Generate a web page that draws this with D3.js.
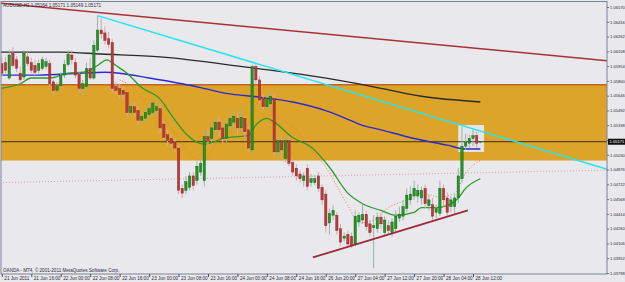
<!DOCTYPE html>
<html>
<head>
<meta charset="utf-8">
<script src="https://cdn.jsdelivr.net/npm/d3@7"></script>
<style>
  html, body { margin: 0; padding: 0; background: #e9e8ec; }
  svg { display: block; }
  text { font-family: "Liberation Sans", Arial, sans-serif; }
</style>
</head>
<body>
<div class="vis-candle"></div>
<script>
// header / footer texts
const symbolTitle = "AUDUSD,H1  1.05164 1.05171 1.05149 1.05171";
const copyright = "OANDA - MT4, \u00a9 2001-2011 MetaQuotes Software Corp.";

// H1 bars, 21 Jun 08:00 .. 28 Jun 14:00
const open = [
  1.0598,1.0599,1.0583,1.0609,1.0602,1.0588,1.0584,1.0605,1.0599,1.0596,
  1.0591,1.0593,1.0595,1.0598,1.0579,1.0570,1.0575,1.0586,1.0597,1.0607,
  1.0599,1.0587,1.0572,1.0574,1.0593,1.0583,1.0612,1.0633,1.0630,1.0624,
  1.0620,1.0574,1.0572,1.0570,1.0568,1.0547,1.0553,1.0549,1.0539,1.0541,
  1.0545,1.0547,1.0549,1.0551,1.0535,1.0524,1.0520,1.0516,1.0510,1.0468,
  1.0466,1.0469,1.0481,1.0476,1.0485,1.0476,1.0522,1.0520,1.0529,1.0537,
  1.0531,1.0520,1.0533,1.0537,1.0541,1.0531,1.0541,1.0529,1.0508,1.0595,
  1.0581,1.0562,1.0553,1.0556,1.0562,1.0506,1.0518,1.0499,1.0518,1.0495,
  1.0489,1.0483,1.0476,1.0489,1.0474,1.0474,1.0481,1.0469,1.0462,1.0432,
  1.0440,1.0440,1.0426,1.0416,1.0420,1.0418,1.0410,1.0433,1.0435,1.0441,
  1.0431,1.0427,1.0426,1.0438,1.0422,1.0429,1.0422,1.0426,1.0437,1.0439,
  1.0447,1.0456,1.0460,1.0460,1.0458,1.0468,1.0450,1.0451,1.0443,1.0442,
  1.0468,1.0458,1.0449,1.0449,1.0458,1.0478,1.0512,1.0515,1.0520,1.0523,
  1.05164
];
const high = [
  1.0604,1.0605,1.0612,1.0615,1.0606,1.0595,1.0612,1.0610,1.0604,1.0602,
  1.0602,1.0605,1.0604,1.0602,1.0581,1.0579,1.0589,1.0602,1.0612,1.0612,
  1.0604,1.0589,1.0581,1.0599,1.0604,1.0622,1.0648,1.0645,1.0637,1.0631,
  1.0624,1.0579,1.0577,1.0574,1.0570,1.0557,1.0558,1.0553,1.0547,1.0551,
  1.0556,1.0560,1.0558,1.0556,1.0539,1.0529,1.0524,1.0520,1.0513,1.0472,
  1.0481,1.0485,1.0485,1.0497,1.0499,1.0529,1.0531,1.0537,1.0542,1.0544,
  1.0534,1.0539,1.0545,1.0549,1.0547,1.0551,1.0544,1.0533,1.0597,1.0599,
  1.0585,1.0566,1.0568,1.0568,1.0566,1.0522,1.0523,1.0522,1.0522,1.0499,
  1.0493,1.0487,1.0485,1.0493,1.0483,1.0482,1.0485,1.0472,1.0466,1.0447,
  1.0450,1.0443,1.0431,1.0422,1.0424,1.0422,1.0445,1.0443,1.0452,1.0445,
  1.0435,1.0440,1.0443,1.0443,1.0439,1.0435,1.0437,1.0445,1.0449,1.0456,
  1.0468,1.0470,1.0476,1.0472,1.0470,1.0472,1.0461,1.0458,1.0451,1.0476,
  1.0472,1.0464,1.0460,1.0462,1.0489,1.0532,1.0525,1.0524,1.0529,1.0527,
  1.05171
];
const low = [
  1.0585,1.0587,1.0581,1.0594,1.0589,1.0577,1.0581,1.0595,1.0588,1.0586,
  1.0588,1.0591,1.0592,1.0574,1.0565,1.0568,1.0572,1.0583,1.0595,1.0597,
  1.0583,1.0568,1.0565,1.0570,1.0581,1.0581,1.0610,1.0624,1.0618,1.0614,
  1.0568,1.0566,1.0562,1.0560,1.0543,1.0544,1.0543,1.0534,1.0535,1.0538,
  1.0541,1.0544,1.0545,1.0525,1.0518,1.0513,1.0510,1.0506,1.0462,1.0458,
  1.0462,1.0466,1.0466,1.0472,1.0481,1.0470,1.0512,1.0516,1.0524,1.0522,
  1.0515,1.0516,1.0529,1.0531,1.0524,1.0527,1.0520,1.0506,1.0504,1.0577,
  1.0556,1.0549,1.0549,1.0551,1.0501,1.0501,1.0501,1.0495,1.0491,1.0481,
  1.0476,1.0474,1.0470,1.0466,1.0470,1.0471,1.0464,1.0451,1.0422,1.0420,
  1.0435,1.0420,1.0408,1.0412,1.0407,1.0406,1.0408,1.0428,1.0431,1.0424,
  1.0418,1.0385,1.0422,1.0426,1.0418,1.0420,1.0418,1.0422,1.0433,1.0435,
  1.0443,1.0451,1.0456,1.0453,1.0451,1.0447,1.0445,1.0435,1.0437,1.0439,
  1.0449,1.0439,1.0443,1.0441,1.0453,1.0474,1.0508,1.0510,1.0512,1.0510,
  1.05149
];
const close = [
  1.0588,1.0591,1.0607,1.0596,1.0593,1.0581,1.0609,1.0598,1.0591,1.0589,
  1.0598,1.0602,1.0600,1.0577,1.0570,1.0575,1.0586,1.0597,1.0608,1.0602,
  1.0586,1.0572,1.0577,1.0593,1.0583,1.0617,1.0633,1.0629,1.0622,1.0618,
  1.0572,1.0570,1.0566,1.0566,1.0547,1.0553,1.0547,1.0539,1.0543,1.0547,
  1.0551,1.0557,1.0553,1.0531,1.0521,1.0518,1.0515,1.0510,1.0466,1.0463,
  1.0475,1.0481,1.0471,1.0491,1.0494,1.0522,1.0518,1.0531,1.0537,1.0529,
  1.0520,1.0535,1.0541,1.0543,1.0531,1.0542,1.0527,1.0510,1.0595,1.0581,
  1.0560,1.0553,1.0562,1.0564,1.0506,1.0518,1.0508,1.0518,1.0494,1.0485,
  1.0481,1.0478,1.0481,1.0470,1.0478,1.0478,1.0468,1.0456,1.0429,1.0442,
  1.0445,1.0424,1.0412,1.0418,1.0410,1.0409,1.0439,1.0440,1.0441,1.0428,
  1.0422,1.0429,1.0438,1.0431,1.0435,1.0424,1.0433,1.0439,1.0441,1.0449,
  1.0461,1.0462,1.0468,1.0466,1.0466,1.0452,1.0456,1.0439,1.0447,1.0468,
  1.0456,1.0443,1.0456,1.0458,1.0481,1.0512,1.0516,1.0520,1.0523,1.0515,
  1.05171
];

// axis ticks
const timeTicks = [0, 8, 16, 24, 32, 40, 48, 56, 64, 72, 80, 88, 96, 104, 112, 120, 128];
const timeLabels = ["21 Jun 2011", "21 Jun 16:00", "22 Jun 00:00", "22 Jun 08:00", "22 Jun 16:00",
  "23 Jun 00:00", "23 Jun 08:00", "23 Jun 16:00", "24 Jun 00:00", "24 Jun 08:00", "24 Jun 16:00",
  "26 Jun 20:00", "27 Jun 04:00", "27 Jun 12:00", "27 Jun 20:00", "28 Jun 04:00", "28 Jun 12:00"];
const priceTicks = [1.06570, 1.06416, 1.06262, 1.06108, 1.05954, 1.05800, 1.05646, 1.05492, 1.05338,
  1.05184, 1.05030, 1.04876, 1.04722, 1.04568, 1.04414, 1.04260, 1.04106, 1.03952, 1.03798];

// moving averages: [bar, price]
const maSlow = [[-0.5,1.0610],[16,1.0610],[27,1.0608],[43,1.0605],[67,1.0594],[81,1.0587],[97,1.0577],[114,1.0564],[130,1.0558]];
const maMid = [[-0.5,1.0586],[10,1.0586],[21,1.0588],[28,1.0589],[32,1.0588],[40,1.0583],[49,1.0577],[54,1.0573],
  [61,1.0567],[70,1.0563],[79,1.0558],[88,1.0549],[94,1.0540],[97,1.0535],[103,1.0529],[112,1.0520],[121,1.0513],[126,1.0509],[130,1.0509]];
const maFast = [[-0.5,1.0572],[5,1.0577],[8,1.0583],[13,1.0583],[18,1.0588],[22,1.0589],[26,1.0596],[28.5,1.0602],[31,1.0596],
  [34,1.0588],[38,1.0573],[43,1.0561],[46.5,1.0542],[50,1.0525],[55,1.0514],[61,1.0521],[67,1.0523],[69,1.0534],[72,1.0541],
  [74,1.0537],[79,1.0521],[84,1.0511],[89,1.0490],[94,1.0463],[98,1.0452],[103,1.0445],[107,1.0440],[112,1.0443],[114,1.0448],
  [118,1.0448],[121,1.0450],[124,1.0458],[126,1.0468],[130,1.0478]];
const maDotted = [[32,1.0581],[36,1.0572],[40,1.0553],[43,1.0549],[45,1.0536],[48,1.0521],[52,1.0500],[55,1.0497],[57,1.0508],
  [61,1.0525],[66,1.0529],[68,1.0546],[70,1.0558],[75,1.0542],[79,1.0532],[84,1.0508],[88,1.0490],[94,1.0450],[97,1.0432],
  [101,1.0435],[105,1.0448],[110,1.0456],[114,1.0463],[119,1.0459],[123,1.0463],[126,1.0484],[130,1.0497]];

// drawn objects
const resistanceLine = [[-0.5, 1.0661], [164.4, 1.0601]];
const cyanLine = [[26, 1.0648], [164.4, 1.0488]];
const supportLine = [[84.5, 1.0396], [126.6, 1.0445]];
const pinkLine = [[-0.5, 1.0474], [164.4, 1.0487]];
const bandPrices = [1.0576, 1.0497];
const boxBars = [124, 131];
const boxPrices = [1.0534, 1.0506];

const draw = () => {
    const W = 625, H = 282;
    const plot = { left: 1, top: 1.5, right: 607, bottom: 274 };

    const svg = d3.select('.vis-candle')
        .append('svg')
        .attr('width', W)
        .attr('height', H);

    svg.append('rect').attr('width', W).attr('height', H).attr('fill', '#e9e8ec');

    // scales: bar index -> x, price -> y
    const x = d3.scaleLinear().domain([-0.5, 164.4]).range([0, 607]);
    const y = d3.scaleLinear().domain([1.03798, 1.06570]).range([273, 7]);

    svg.append('defs').append('clipPath')
        .attr('id', 'plotClip')
        .append('rect')
        .attr('x', plot.left).attr('y', plot.top)
        .attr('width', plot.right - plot.left).attr('height', plot.bottom - plot.top);

    const g = svg.append('g').attr('clip-path', 'url(#plotClip)');

    // orange zone
    g.append('rect')
        .attr('x', plot.left)
        .attr('y', y(bandPrices[0]))
        .attr('width', plot.right - plot.left)
        .attr('height', y(bandPrices[1]) - y(bandPrices[0]))
        .attr('fill', '#dca52a');
    g.append('line')
        .attr('x1', plot.left).attr('x2', plot.right)
        .attr('y1', y(bandPrices[0])).attr('y2', y(bandPrices[0]))
        .attr('stroke', '#c0642a').attr('stroke-width', 1.5);

    // small light box around last bars
    g.append('rect')
        .attr('x', x(boxBars[0]))
        .attr('y', y(boxPrices[0]))
        .attr('width', x(boxBars[1]) - x(boxBars[0]))
        .attr('height', y(boxPrices[1]) - y(boxPrices[0]))
        .attr('fill', '#e6e6ea');

    const lineGen = d3.line()
        .x(d => x(d[0]))
        .y(d => y(d[1]));
    const smoothGen = d3.line()
        .x(d => x(d[0]))
        .y(d => y(d[1]))
        .curve(d3.curveMonotoneX);

    // pink dotted level + bid line
    g.append('path').attr('d', lineGen(pinkLine))
        .attr('stroke', '#e49aae').attr('stroke-width', 1)
        .attr('stroke-dasharray', '1,2').attr('fill', 'none');
    const lastClose = close[close.length - 1];
    g.append('line')
        .attr('x1', plot.left).attr('x2', plot.right)
        .attr('y1', y(lastClose) + 0.5).attr('y2', y(lastClose) + 0.5)
        .attr('stroke', '#3a2a20').attr('stroke-width', 1);

    // moving averages
    g.append('path').attr('d', smoothGen(maSlow))
        .attr('stroke', '#2a2a2a').attr('stroke-width', 1.3).attr('fill', 'none');
    g.append('path').attr('d', smoothGen(maMid))
        .attr('stroke', '#2a2ad0').attr('stroke-width', 1.4).attr('fill', 'none');
    g.append('path').attr('d', smoothGen(maFast))
        .attr('stroke', '#2a9a2a').attr('stroke-width', 1.3).attr('fill', 'none');
    g.append('path').attr('d', smoothGen(maDotted))
        .attr('stroke', '#f07848').attr('stroke-width', 1)
        .attr('stroke-dasharray', '1,2').attr('fill', 'none');

    // candles
    const bars = open.map((o, i) => ({ i: i, o: o, h: high[i], l: low[i], c: close[i] }));
    const bw = 2.4;
    const candles = g.append('g').attr('class', 'candles');
    candles.selectAll('.wick')
        .data(bars)
        .join('line')
        .attr('class', 'wick')
        .attr('x1', d => x(d.i)).attr('x2', d => x(d.i))
        .attr('y1', d => y(d.h)).attr('y2', d => y(d.l))
        .attr('stroke', d => d.c >= d.o ? '#98b4a8' : '#dca4ae')
        .attr('stroke-width', 1);
    candles.selectAll('.body')
        .data(bars)
        .join('rect')
        .attr('class', 'body')
        .attr('x', d => x(d.i) - bw / 2)
        .attr('y', d => y(Math.max(d.o, d.c)))
        .attr('width', bw)
        .attr('height', d => Math.max(1, Math.abs(y(d.o) - y(d.c))))
        .attr('fill', d => d.c >= d.o ? '#229622' : '#b83a3a')
        .attr('stroke', d => d.c >= d.o ? '#145a14' : '#8a2424')
        .attr('stroke-width', 0.4);

    // trend lines
    g.append('path').attr('d', lineGen(resistanceLine))
        .attr('stroke', '#a83232').attr('stroke-width', 1.5).attr('fill', 'none');
    g.append('path').attr('d', lineGen(cyanLine))
        .attr('stroke', '#22e6f0').attr('stroke-width', 1.5).attr('fill', 'none');
    g.append('path').attr('d', lineGen(supportLine))
        .attr('stroke', '#a02838').attr('stroke-width', 1.8).attr('fill', 'none');

    // frame
    svg.append('rect')
        .attr('x', plot.left).attr('y', plot.top)
        .attr('width', plot.right - plot.left).attr('height', plot.bottom - plot.top)
        .attr('fill', 'none').attr('stroke', '#7c8296').attr('stroke-width', 1);

    // price axis
    const yAxis = svg.append('g')
        .attr('transform', 'translate(' + plot.right + ',0)')
        .call(d3.axisRight(y).tickValues(priceTicks).tickSize(2).tickPadding(1).tickFormat(d3.format('.5f')));
    yAxis.select('.domain').remove();
    yAxis.selectAll('line').attr('stroke', '#6a6a7a');
    yAxis.selectAll('text')
        .style('font-size', '4.1px')
        .attr('fill', '#2a2a3a');

    // current price label
    svg.append('rect')
        .attr('x', plot.right + 1).attr('y', y(lastClose) - 2.5)
        .attr('width', 17).attr('height', 6)
        .attr('fill', '#101010');
    svg.append('text')
        .attr('x', plot.right + 2.5).attr('y', y(lastClose) + 2)
        .style('font-size', '4.1px')
        .attr('fill', '#ffffff')
        .text(d3.format('.5f')(lastClose));

    // time axis
    const xAxis = svg.append('g')
        .attr('transform', 'translate(0,' + plot.bottom + ')')
        .call(d3.axisBottom(x).tickValues(timeTicks).tickSize(3).tickFormat((d, i) => timeLabels[i]));
    xAxis.select('.domain').remove();
    xAxis.selectAll('line').attr('stroke', '#4a4a5a');
    xAxis.selectAll('text')
        .attr('text-anchor', 'start')
        .attr('dx', '2px')
        .attr('y', 2.5)
        .style('font-size', '4.6px')
        .attr('fill', '#2a2a3a');

    // texts
    svg.append('text')
        .attr('x', 3).attr('y', 7)
        .style('font-size', '4.6px')
        .attr('fill', '#2a2a3a')
        .text(symbolTitle);
    svg.append('text')
        .attr('x', 3).attr('y', 271.5)
        .style('font-size', '4.6px')
        .attr('fill', '#2a2a3a')
        .text(copyright);

    return svg;
};

draw();
</script>
</body>
</html>
